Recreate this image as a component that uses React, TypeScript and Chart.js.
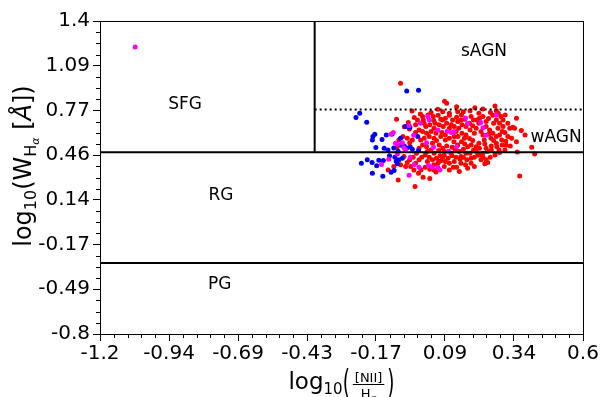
import React, { useEffect, useRef } from "react";
import { Chart, registerables } from "chart.js";
Chart.register(...registerables);

// ---------- axis ticks ----------
const xTickValues = [-1.2, -0.942857, -0.685714, -0.428571, -0.171429, 0.085714, 0.342857, 0.6];
const xTickLabels = ["-1.2", "-0.94", "-0.69", "-0.43", "-0.17", "0.09", "0.34", "0.6"];
const yTickValues = [-0.8, -0.485714, -0.171429, 0.142857, 0.457143, 0.771429, 1.085714, 1.4];
const yTickLabels = ["-0.8", "-0.49", "-0.17", "0.14", "0.46", "0.77", "1.09", "1.4"];

// ---------- WHAN boundaries ----------
const niiLimit = -0.4;
const ewLimit = 0.477;
const sAgnLimit = 0.778;
const pgLimit = -0.301;

// ---------- region names ----------
const regionNames = ["SFG", "sAGN", "wAGN", "RG", "PG"];
const regionX = [-0.883, 0.231, 0.5, -0.749, -0.754];
const regionY = [0.812, 1.182, 0.578, 0.17, -0.455];

// ---------- galaxies ----------
const bluePoints: [number, number][] = [
  [-0.057, 0.908], [-0.013, 0.913], [-0.232, 0.752], [-0.246, 0.721], [-0.206, 0.688],
  [-0.176, 0.604], [-0.183, 0.588], [-0.185, 0.564], [-0.149, 0.567], [-0.133, 0.599],
  [-0.111, 0.606], [-0.08, 0.576], [-0.061, 0.658], [-0.045, 0.653], [-0.172, 0.51],
  [-0.141, 0.506], [-0.127, 0.494], [-0.105, 0.508], [-0.077, 0.527], [-0.066, 0.522],
  [-0.057, 0.508], [-0.036, 0.499], [-0.013, 0.489], [-0.226, 0.4], [-0.204, 0.424],
  [-0.186, 0.405], [-0.169, 0.382], [-0.161, 0.421], [-0.144, 0.419], [-0.185, 0.33],
  [-0.146, 0.309], [-0.115, 0.337], [-0.104, 0.349], [-0.096, 0.414], [-0.086, 0.424],
  [-0.073, 0.435], [-0.092, 0.396], [-0.101, 0.442], [-0.121, 0.452], [-0.089, 0.485],
  [-0.016, 0.588], [-0.044, 0.515],
];

const magentaPoints: [number, number][] = [
  [-1.069, 1.217],
  [-0.116, 0.604], [-0.107, 0.616], [-0.099, 0.541], [-0.091, 0.536], [-0.073, 0.545],
  [-0.048, 0.663], [-0.006, 0.681], [-0.031, 0.597], [0.022, 0.728], [0.027, 0.705],
  [0.059, 0.634], [0.094, 0.625], [0.109, 0.616], [0.12, 0.623], [0.129, 0.517],
  [0.162, 0.719], [0.17, 0.681], [0.219, 0.686], [0.227, 0.649], [0.239, 0.597],
  [0.277, 0.74], [-0.124, 0.428], [-0.151, 0.391], [-0.048, 0.316], [-0.029, 0.391],
  [-0.011, 0.372], [0.024, 0.386], [0.037, 0.372], [0.059, 0.372], [0.067, 0.353],
  [-0.067, 0.508], [-0.061, 0.494], [-0.044, 0.442], [-0.092, 0.466], [0.017, 0.545],
  [0.043, 0.513], [0.099, 0.485],
];

const redPoints: [number, number][] = [
  [-0.08, 0.962], [0.084, 0.836], [0.092, 0.822], [0.129, 0.798], [0.197, 0.791],
  [0.179, 0.77], [0.227, 0.782], [0.272, 0.803], [0.277, 0.77], [-0.037, 0.768],
  [-0.095, 0.709], [-0.051, 0.686], [-0.066, 0.656], [-0.047, 0.641], [-0.029, 0.721],
  [-0.017, 0.705], [0.002, 0.728], [0.005, 0.705], [0.022, 0.74], [0.042, 0.728],
  [0.044, 0.7], [0.06, 0.737], [0.07, 0.709], [0.087, 0.716], [0.102, 0.737],
  [0.114, 0.705], [0.129, 0.723], [0.147, 0.74], [0.159, 0.709], [0.183, 0.728],
  [0.192, 0.705], [0.212, 0.752], [0.227, 0.728], [0.248, 0.714], [0.255, 0.756],
  [0.264, 0.737], [0.284, 0.752], [0.294, 0.728], [0.31, 0.74], [0.289, 0.681],
  [0.302, 0.658], [0.32, 0.681], [0.345, 0.646], [0.37, 0.63], [0.384, 0.599],
  [0.339, 0.653], [0.267, 0.681], [0.283, 0.646], [0.299, 0.623], [0.309, 0.616],
  [0.32, 0.588], [0.312, 0.555], [0.297, 0.564], [0.277, 0.541], [0.258, 0.522],
  [0.239, 0.506], [0.232, 0.564], [0.212, 0.541], [0.202, 0.517], [0.189, 0.56],
  [0.177, 0.574], [0.164, 0.599], [0.149, 0.611], [0.134, 0.588], [0.119, 0.552],
  [0.102, 0.576], [0.087, 0.564], [0.07, 0.588], [0.054, 0.56], [0.039, 0.541],
  [0.027, 0.588], [0.017, 0.611], [0.002, 0.623], [-0.011, 0.634], [-0.024, 0.616],
  [-0.036, 0.564], [-0.046, 0.545], [-0.055, 0.576], [-0.071, 0.588], [-0.086, 0.564],
  [-0.092, 0.517], [0.014, 0.658], [0.029, 0.67], [0.049, 0.681], [0.064, 0.67],
  [0.079, 0.658], [0.092, 0.681], [0.109, 0.67], [0.12, 0.658], [0.137, 0.646],
  [0.149, 0.67], [0.164, 0.658], [0.179, 0.634], [0.189, 0.663], [0.202, 0.646],
  [0.212, 0.681], [0.22, 0.623], [0.239, 0.658], [0.252, 0.634], [0.264, 0.611],
  [0.277, 0.588], [0.289, 0.599], [0.257, 0.576], [0.234, 0.536], [0.244, 0.482],
  [0.227, 0.471], [0.208, 0.459], [0.192, 0.494], [0.179, 0.471], [0.17, 0.517],
  [0.154, 0.499], [0.139, 0.482], [0.124, 0.494], [0.112, 0.513], [0.092, 0.522],
  [0.077, 0.506], [0.062, 0.489], [0.045, 0.471], [0.033, 0.494], [0.017, 0.517],
  [0.002, 0.529], [-0.011, 0.506], [-0.021, 0.471], [-0.033, 0.442], [-0.046, 0.424],
  [-0.055, 0.405], [-0.03, 0.353], [-0.011, 0.424], [-0.001, 0.442], [0.012, 0.459],
  [0.027, 0.442], [0.039, 0.424], [0.054, 0.435], [0.067, 0.452], [0.083, 0.459],
  [0.097, 0.435], [0.112, 0.452], [0.127, 0.442], [0.142, 0.428], [0.154, 0.442],
  [0.167, 0.424], [0.183, 0.4], [0.195, 0.442], [0.212, 0.459], [0.227, 0.442],
  [0.239, 0.424], [0.245, 0.405], [0.195, 0.377], [0.17, 0.365], [0.162, 0.389],
  [0.145, 0.4], [0.129, 0.372], [0.117, 0.372], [0.102, 0.4], [0.087, 0.412],
  [0.072, 0.419], [0.059, 0.4], [0.044, 0.389], [0.029, 0.358], [0.012, 0.372],
  [-0.004, 0.353], [-0.013, 0.33], [0.004, 0.302], [0.029, 0.293], [0.052, 0.339],
  [-0.126, 0.353], [-0.089, 0.283], [-0.026, 0.236], [0.364, 0.311], [0.409, 0.513],
  [0.42, 0.466], [0.355, 0.48], [0.352, 0.716], [0.327, 0.646], [0.334, 0.576],
  [0.309, 0.494], [0.289, 0.475], [0.272, 0.459], [0.254, 0.442], [0.234, 0.396],
  [0.22, 0.424], [0.059, 0.78], [0.102, 0.752], [0.133, 0.763], [0.077, 0.763],
  [0.034, 0.756], [-0.006, 0.747], [-0.024, 0.67], [0.133, 0.693], [0.154, 0.763],
  [0.177, 0.681], [0.204, 0.705], [0.147, 0.552], [0.159, 0.536], [0.074, 0.616],
  [0.087, 0.599], [0.052, 0.611], [0.034, 0.623], [0.249, 0.606], [0.267, 0.56],
  [0.279, 0.517], [0.287, 0.494], [0.299, 0.529], [0.314, 0.527], [0.329, 0.522],
  [0.352, 0.552], [0.008, 0.576], [0.045, 0.576], [0.12, 0.588], [0.158, 0.576],
  [0.183, 0.529], [0.133, 0.529], [0.064, 0.529], [-0.005, 0.564], [0.02, 0.482],
  [0.083, 0.482], [0.108, 0.471], [0.164, 0.471], [0.202, 0.482], [0.064, 0.412],
  [0.12, 0.412], [0.183, 0.435], [0.02, 0.412], [-0.024, 0.4], [0.102, 0.646],
  [0.127, 0.623], [0.195, 0.611], [0.227, 0.599], [0.045, 0.646], [0.008, 0.681],
  [0.077, 0.705], [0.145, 0.705], [0.214, 0.716], [0.239, 0.693], [0.277, 0.705],
  [0.302, 0.705], [0.258, 0.494], [0.214, 0.506], [0.145, 0.447], [0.077, 0.442],
  [0.045, 0.353], [0.083, 0.377], [0.139, 0.342], [0.102, 0.353], [-0.042, 0.377],
  [-0.067, 0.447], [-0.061, 0.377], [-0.08, 0.389], [-0.105, 0.377],
];

const FONT = '"DejaVu Sans", sans-serif';

type Part = { t: string; size: number; dy?: number; italic?: boolean };
const fontOf = (p: Part) => `${p.italic ? "italic " : ""}${p.size}px ${FONT}`;
function measureParts(ctx: CanvasRenderingContext2D, parts: Part[]) {
  let w = 0;
  for (const p of parts) {
    ctx.font = fontOf(p);
    w += ctx.measureText(p.t).width;
  }
  return w;
}
function drawParts(ctx: CanvasRenderingContext2D, parts: Part[], x: number, y: number) {
  for (const p of parts) {
    ctx.font = fontOf(p);
    ctx.fillText(p.t, x, y + (p.dy || 0));
    x += ctx.measureText(p.t).width;
  }
  return x;
}

const decorPlugin = {
  id: "decor",
  afterDraw(chart: any) {
    const ctx: CanvasRenderingContext2D = chart.ctx;
    const { left, right, top, bottom } = chart.chartArea;
    const xs = chart.scales.x;
    const ys = chart.scales.y;
    ctx.save();
    ctx.strokeStyle = "#000";
    ctx.fillStyle = "#000";
    ctx.lineWidth = 1;
    // frame top/right
    ctx.beginPath();
    ctx.moveTo(Math.round(left), Math.round(top) + 0.5);
    ctx.lineTo(Math.round(right) + 1, Math.round(top) + 0.5);
    ctx.moveTo(Math.round(right) + 0.5, Math.round(top));
    ctx.lineTo(Math.round(right) + 0.5, Math.round(bottom) + 1);
    ctx.stroke();
    // minor ticks
    ctx.beginPath();
    for (let i = 0; i < xTickValues.length - 1; i++) {
      const a = xTickValues[i], b = xTickValues[i + 1];
      for (let k = 1; k < 5; k++) {
        const px = Math.round(xs.getPixelForValue(a + ((b - a) * k) / 5)) + 0.5;
        ctx.moveTo(px, Math.round(bottom));
        ctx.lineTo(px, Math.round(bottom) + 4);
      }
    }
    for (let i = 0; i < yTickValues.length - 1; i++) {
      const a = yTickValues[i], b = yTickValues[i + 1];
      for (let k = 1; k < 4; k++) {
        const py = Math.round(ys.getPixelForValue(a + ((b - a) * k) / 4)) + 0.5;
        ctx.moveTo(Math.round(left), py);
        ctx.lineTo(Math.round(left) - 4, py);
      }
    }
    ctx.stroke();

    // region names
    ctx.textAlign = "center";
    ctx.textBaseline = "middle";
    ctx.font = `17px ${FONT}`;
    regionNames.forEach((n, i) => {
      ctx.fillText(n, xs.getPixelForValue(regionX[i]), ys.getPixelForValue(regionY[i]));
    });

    // y title
    ctx.textAlign = "left";
    ctx.textBaseline = "alphabetic";
    const yParts: Part[] = [
      { t: "log", size: 24 },
      { t: "10", size: 16, dy: 5 },
      { t: "(W", size: 24 },
      { t: "H", size: 16, dy: 5 },
      { t: "α", size: 11, dy: 8, italic: true },
      { t: " [", size: 24 },
      { t: "Å", size: 24, italic: true },
      { t: "])", size: 24 },
    ];
    const yw = measureParts(ctx, yParts);
    ctx.save();
    ctx.translate(31, 166);
    ctx.rotate(-Math.PI / 2);
    drawParts(ctx, yParts, -yw / 2, 0);
    ctx.restore();

    // x title
    const logParts: Part[] = [
      { t: "log", size: 23 },
      { t: "10", size: 15, dy: 5 },
    ];
    const base = 389;
    const numParts: Part[] = [{ t: "[NII]", size: 13 }];
    const denParts: Part[] = [
      { t: "H", size: 13 },
      { t: "α", size: 9, dy: 3, italic: true },
    ];
    const lw = measureParts(ctx, logParts);
    ctx.font = `23px ${FONT}`;
    const pw = ctx.measureText("(").width * 0.8;
    const nw = measureParts(ctx, numParts);
    const dw = measureParts(ctx, denParts);
    const fw = Math.max(nw, dw) + 4;
    const gap = 3;
    const total = lw + pw + gap + fw + gap + pw;
    let x = (left + right) / 2 - total / 2;
    x = drawParts(ctx, logParts, x, base);
    const drawParen = (c: string, px: number) => {
      ctx.save();
      ctx.translate(px, 394);
      ctx.scale(0.8, 1.5);
      ctx.font = `23px ${FONT}`;
      ctx.fillText(c, 0, 0);
      ctx.restore();
    };
    drawParen("(", x);
    x += pw + gap;
    drawParts(ctx, numParts, x + (fw - nw) / 2, 382);
    ctx.beginPath();
    ctx.moveTo(x, 384.5);
    ctx.lineTo(x + fw, 384.5);
    ctx.stroke();
    drawParts(ctx, denParts, x + (fw - dw) / 2, 398);
    x += fw + gap;
    drawParen(")", x);
    ctx.restore();
  },
};

const toXY = (arr: [number, number][]) => arr.map(([x, y]) => ({ x, y }));

export default function App() {
  const ref = useRef<HTMLCanvasElement>(null);
  useEffect(() => {
    Chart.defaults.font.family = FONT;
    const lineStyle = {
      showLine: true,
      borderColor: "#000",
      borderWidth: 2,
      pointRadius: 0,
      pointHoverRadius: 0,
      fill: false,
      order: 0,
    };
    const pt = (color: string, order: number) => ({
      backgroundColor: color,
      borderColor: color,
      borderWidth: 0,
      pointRadius: 2.5,
      pointHoverRadius: 2.5,
      order,
    });
    const chart = new Chart(ref.current!, {
      type: "scatter",
      data: {
        datasets: [
          { label: "PG", data: [{ x: -1.2, y: pgLimit }, { x: 0.6, y: pgLimit }], ...lineStyle },
          { label: "EW", data: [{ x: -1.2, y: ewLimit }, { x: 0.6, y: ewLimit }], ...lineStyle },
          { label: "NII", data: [{ x: niiLimit, y: ewLimit }, { x: niiLimit, y: 1.4 }], ...lineStyle },
          {
            label: "sAGN",
            data: [{ x: niiLimit, y: sAgnLimit }, { x: 0.6, y: sAgnLimit }],
            ...lineStyle,
            borderDash: [2, 3],
          },
          { label: "magenta", data: toXY(magentaPoints), ...pt("#ff00ff", 1) },
          { label: "blue", data: toXY(bluePoints), ...pt("#0000ff", 2) },
          { label: "red", data: toXY(redPoints), ...pt("#ff0000", 3) },
        ] as any,
      },
      options: {
        animation: false,
        responsive: false,
        events: [],
        layout: { padding: { left: 0, right: 20, top: 21, bottom: 0 } },
        plugins: { legend: { display: false }, tooltip: { enabled: false } },
        scales: {
          x: {
            type: "linear",
            min: -1.2,
            max: 0.6,
            afterBuildTicks: (s: any) => {
              s.ticks = xTickValues.map((v) => ({ value: v }));
            },
            afterFit: (s: any) => {
              s.height = 63;
            },
            ticks: {
              callback: (_v: any, i: number) => xTickLabels[i],
              color: "#000",
              font: { size: 20, family: FONT },
              padding: 1,
              maxRotation: 0,
              autoSkip: false,
            },
            grid: { drawOnChartArea: false, drawTicks: true, tickLength: 7, color: "#000", lineWidth: 1 },
            border: { display: true, color: "#000", width: 1 },
          },
          y: {
            type: "linear",
            min: -0.8,
            max: 1.4,
            afterBuildTicks: (s: any) => {
              s.ticks = yTickValues.map((v) => ({ value: v }));
            },
            afterFit: (s: any) => {
              s.width = 100;
            },
            ticks: {
              callback: (_v: any, i: number) => yTickLabels[i],
              color: "#000",
              font: { size: 20, family: FONT },
              padding: 3,
              autoSkip: false,
            },
            grid: { drawOnChartArea: false, drawTicks: true, tickLength: 7, color: "#000", lineWidth: 1 },
            border: { display: true, color: "#000", width: 1 },
          },
        },
      } as any,
      plugins: [decorPlugin],
    });
    return () => chart.destroy();
  }, []);
  return (
    <div style={{ position: "fixed", left: 0, top: 0, width: 603, height: 397, background: "#fff" }}>
      <canvas ref={ref} width={603} height={397} style={{ display: "block", width: 603, height: 397 }} />
    </div>
  );
}
